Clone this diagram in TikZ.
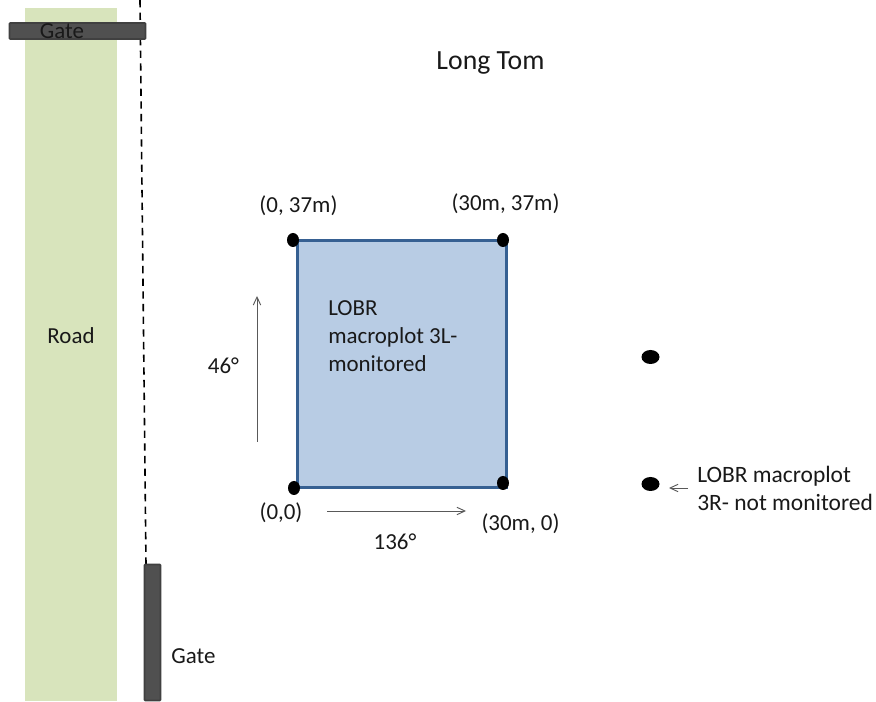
\documentclass[tikz,border=0pt]{standalone}
\usepackage{fontspec}
\setmainfont{Carlito}
\usetikzlibrary{arrows.meta,shapes.geometric}
\definecolor{roadgreen}{RGB}{216,228,188}
\definecolor{gatefill}{RGB}{80,80,80}
\definecolor{gateedge}{RGB}{64,64,64}
\definecolor{plotfill}{RGB}{184,204,228}
\definecolor{plotedge}{RGB}{54,96,146}
\definecolor{txt}{RGB}{25,25,25}
\tikzset{
  x=0.75pt,y=-0.75pt,
  lbl/.style={inner sep=0pt,font=\fontsize{17.2}{21}\selectfont,text=txt,align=left},
  gatebar/.style={fill=gatefill,draw=gateedge,line width=1.2pt,rounded corners=0.6pt},
  dot/.style={fill=black,draw=none,shape=ellipse,minimum width=13.5pt,minimum height=10.5pt,inner sep=0pt},
  vdot/.style={fill=black,draw=none,shape=ellipse,minimum width=9pt,minimum height=10.5pt,inner sep=0pt},
  dim/.style={draw=black!65,line width=0.7pt,-{Straight Barb[length=6pt,width=8pt,angle'=50]}}
}
\begin{document}
\begin{tikzpicture}
\useasboundingbox (0,0) rectangle (876,702);
\fill[white] (0,0) rectangle (876,702);
\node[fill=roadgreen,minimum width=69pt,minimum height=520pt,inner sep=0pt,draw=none] (road) at (71,354.5) {};
\coordinate (fenceTop) at (140,0);
\coordinate (fenceBottom) at (146,565);
\draw[black,line width=1.2pt,dash pattern=on 5.5pt off 4pt] (fenceTop) -- (fenceBottom);
\node[gatebar,minimum width=102pt,minimum height=12pt,inner sep=0pt] (gateTop) at (77.5,31) {};
\node[gatebar,minimum width=12pt,minimum height=102pt,inner sep=0pt] (gateBottom) at (152.5,632.5) {};
\node[lbl] (gateTopLabel) at (62,31) {Gate};
\node[lbl] (gateBottomLabel) at (193.5,656) {Gate};
\node[lbl] (roadLabel) at (71,336) {Road};
\node[lbl,font=\fontsize{20.8}{24}\selectfont] (title) at (490.5,63) {Long Tom};
\node[fill=plotfill,draw=plotedge,line width=2.2pt,minimum width=156.5pt,minimum height=185pt,inner sep=0pt] (plot) at (402,364) {};
\node[lbl,anchor=north west] (plotLabel) at (328,300) {LOBR\\macroplot 3L-\\monitored};
\node[vdot] (c1) at (294,488) {};
\node[vdot] (c2) at (503,483) {};
\node[vdot] (c3) at (293,240) {};
\node[vdot] (c4) at (503,240) {};
\node[dot] (d1) at (650.5,357) {};
\node[dot] (d2) at (650.5,484) {};
\node[lbl] (l00) at (281,513) {(0,0)};
\node[lbl] (l30) at (520.5,524) {(30m, 0)};
\node[lbl] (l037) at (298.5,206) {(0, 37m)};
\node[lbl] (l3037) at (505.5,204) {(30m, 37m)};
\node[lbl] (a46) at (223.5,366) {46°};
\node[lbl] (a136) at (395,542) {136°};
\node[lbl,anchor=west,font=\fontsize{17.6}{21}\selectfont] (plot3r) at (697,488) {LOBR macroplot\\3R- not monitored};
\coordinate (a1) at (257,442); \coordinate (a2) at (257,296);
\coordinate (b1) at (327,511); \coordinate (b2) at (466,511);
\coordinate (e1) at (688,488); \coordinate (e2) at (669,488);
\draw[dim] (a1) -- (a2);
\draw[dim] (b1) -- (b2);
\draw[dim] (e1) -- (e2);
\end{tikzpicture}
\end{document}
